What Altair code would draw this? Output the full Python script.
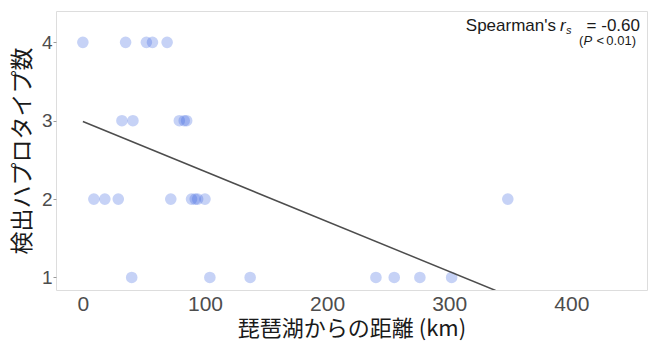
import altair as alt
import pandas as pd

# distances (km) grouped by detected haplotype count
dist_h4 = [0, 35, 52, 57, 69]
dist_h3 = [32, 41, 79, 83, 85]
dist_h2 = [9, 18, 29, 72, 89, 92, 94, 100, 348]
dist_h1 = [40, 104, 137, 240, 255, 276, 302]

trend_x = [0, 338]
trend_y = [2.99, 0.834]

x_ticks = [0, 100, 200, 300, 400]
y_ticks = [1, 2, 3, 4]

x_title = "琵琶湖からの距離 (km)"
y_title = "検出ハプロタイプ数"

rows = []
for h, ds in [(4, dist_h4), (3, dist_h3), (2, dist_h2), (1, dist_h1)]:
    for d in ds:
        rows.append({"distance": d, "haplotypes": h})
pts = pd.DataFrame(rows)
trend = pd.DataFrame({"distance": trend_x, "haplotypes": trend_y})

LAT = "Liberation Sans"
CJK = "Noto Sans CJK JP"

xscale = alt.Scale(domain=[-22, 462], nice=False, zero=False)
yscale = alt.Scale(domain=[0.84, 4.4], nice=False, zero=False)

xaxis = alt.Axis(values=x_ticks, format="d", title=x_title, grid=False, domain=False,
                 ticks=False, labelPadding=3, labelFontSize=21, labelFont=LAT,
                 labelColor="#4d4d4d", titleFont=CJK, titleFontSize=22,
                 titleFontWeight="normal", titleColor="#1a1a1a", titlePadding=4)
yaxis = alt.Axis(values=y_ticks, format="d", title=y_title, grid=False, domain=False,
                 ticks=True, tickSize=3, tickColor="#9a9a9a", labelPadding=1,
                 labelFontSize=19, labelFont=LAT, labelColor="#4d4d4d",
                 titleFont=CJK, titleFontSize=23, titleFontWeight="normal",
                 titleColor="#1a1a1a", titlePadding=7)

points = alt.Chart(pts).mark_circle(size=135, color="#4169E1", opacity=0.3).encode(
    x=alt.X("distance:Q", scale=xscale, axis=xaxis),
    y=alt.Y("haplotypes:Q", scale=yscale, axis=yaxis),
)

line = alt.Chart(trend).mark_line(color="#4d4d4d", strokeWidth=1.5, clip=True).encode(
    x=alt.X("distance:Q", scale=xscale),
    y=alt.Y("haplotypes:Q", scale=yscale),
)

def label(text, x, y, size, align="left", italic=False):
    return alt.Chart(pd.DataFrame({"t": [text]})).mark_text(
        align=align, baseline="alphabetic", fontSize=size, font=LAT,
        fontStyle="italic" if italic else "normal", color="#1a1a1a",
    ).encode(text="t:N", x=alt.value(x), y=alt.value(y))

ann = [
    label("Spearman's", 500, 20, 17, align="right"),
    label("r", 504, 20, 17, italic=True),
    label("s", 510, 23, 11, italic=True),
    label("= -0.60", 584, 20, 17, align="right"),
    label("(", 523, 34, 13),
    label("P", 527.5, 34, 13, italic=True),
    label("<", 540.5, 34, 13),
    label("0.01)", 580, 34, 13, align="right"),
]

chart = alt.layer(points, line, *ann).properties(
    width=591, height=279,
    autosize=alt.AutoSizeParams(type="none"),
    padding={"left": 56, "top": 11, "right": 11, "bottom": 62},
).configure_view(stroke="#9a9a9a", strokeWidth=1.5).configure(background="white")

chart.save("out.html", embed_options={"renderer": "svg", "actions": False})
